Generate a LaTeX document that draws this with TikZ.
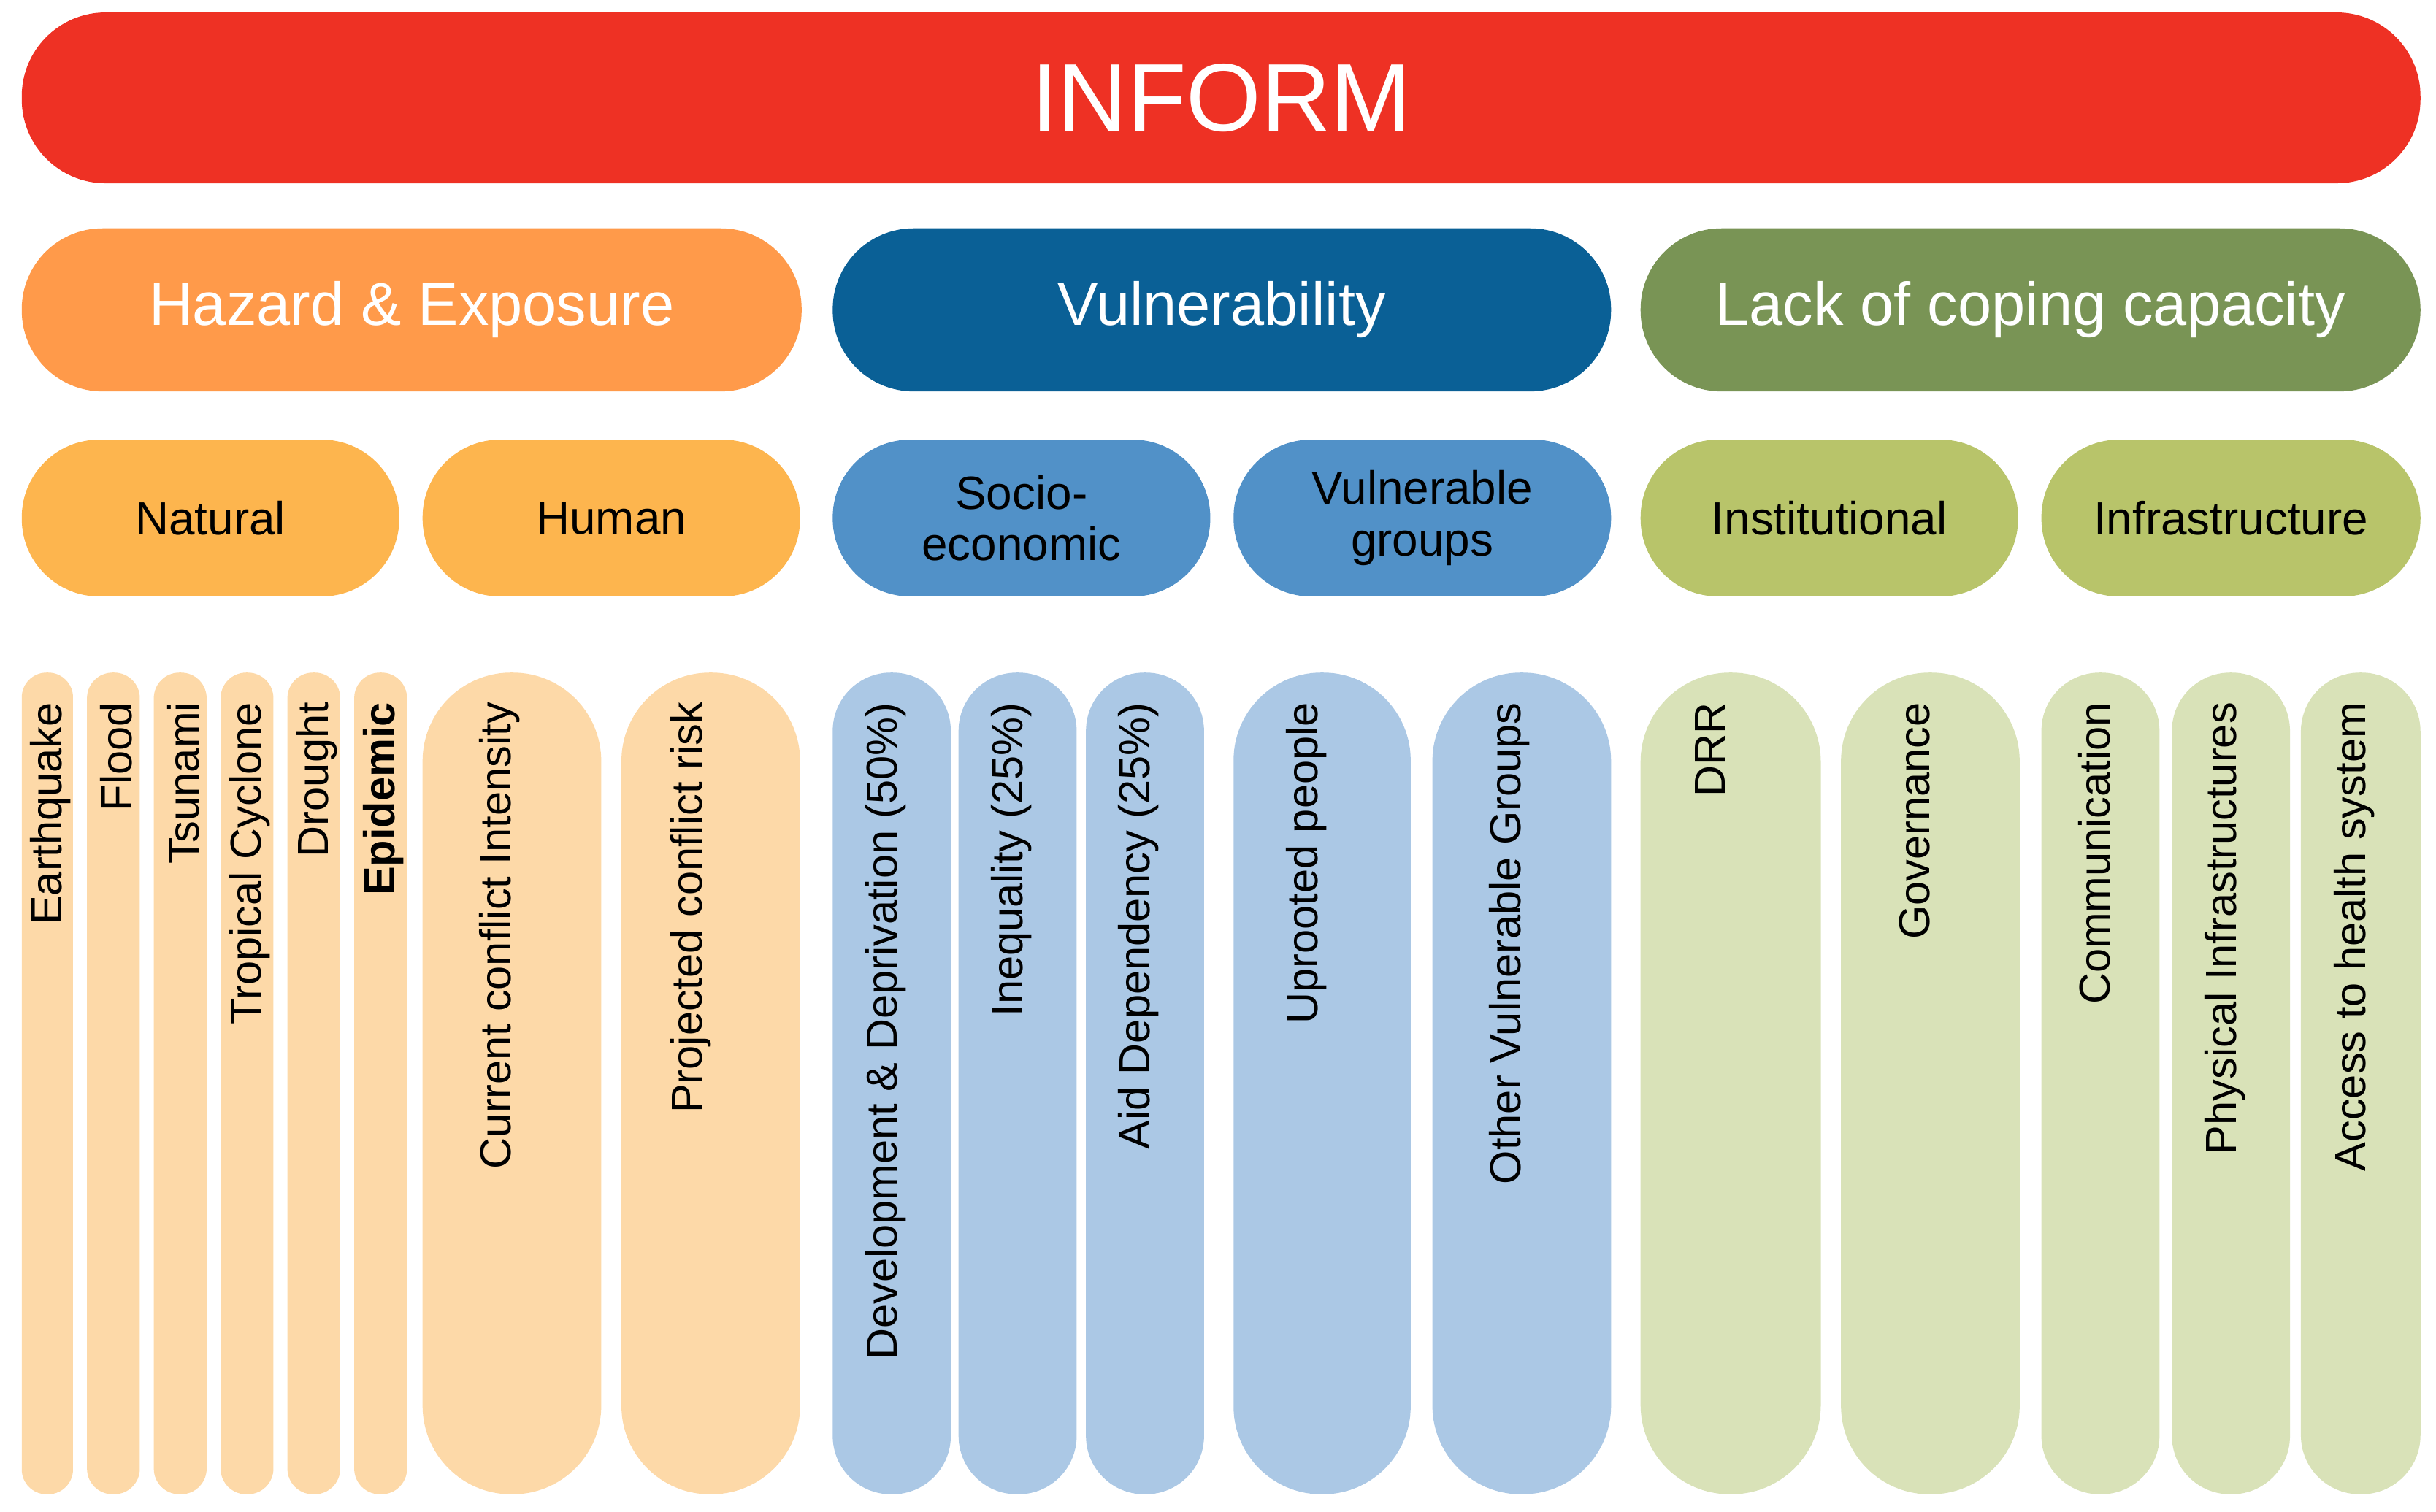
\documentclass[tikz,border=0pt]{standalone}
\usepackage{fontspec}
\setmainfont{Liberation Sans}
\definecolor{cred}{HTML}{EE3124}
\definecolor{corg}{HTML}{FF9A4A}
\definecolor{cblu}{HTML}{0A6096}
\definecolor{cgrn}{HTML}{799455}
\definecolor{lorg}{HTML}{FDB54E}
\definecolor{lblu}{HTML}{5191C8}
\definecolor{lgrn}{HTML}{B8C46A}
\definecolor{porg}{HTML}{FDD9A8}
\definecolor{pblu}{HTML}{ABC8E5}
\definecolor{pgrn}{HTML}{D9E2B8}
\newcommand{\blob}[7]{% name x1 y1 x2 y2 color radius
  \fill[#6,rounded corners=#7pt] (#2,#3) rectangle (#4,#5);
  \coordinate (#1) at ({(#2+#4)/2},{(#3+#5)/2});}
\newcommand{\pillar}[6]{% name x1 x2 color text style
  \pgfmathsetmacro{\rr}{min(60,(#3-#2)/2-0.5)}
  \fill[#4,rounded corners=\rr pt] (#2,433) rectangle (#3,962);
  \node[pl,#6] (#1) at ({(#2+#3)/2+2},452) {#5};}
\begin{document}
\begin{tikzpicture}[x=1pt,y=-1pt,
  pl/.style={rotate=90,anchor=east,font=\fontsize{28}{31}\selectfont,inner sep=0},
  t3/.style={font=\fontsize{30}{33}\selectfont,align=center},
  t2/.style={font=\fontsize{39}{44}\selectfont,text=white}]
\useasboundingbox (0,0) rectangle (1568,973.4);
\blob{inform}{14}{8}{1558}{118}{cred}{54}
\node[font=\fontsize{62}{70}\selectfont,text=white] at (inform) {INFORM};
\blob{haz}{14}{147}{516}{252}{corg}{52}
\node[t2] at (haz) {Hazard \& Exposure};
\blob{vul}{536}{147}{1037}{252}{cblu}{52}
\node[t2] at (vul) {Vulnerability};
\blob{lcc}{1056}{147}{1558}{252}{cgrn}{52}
\node[t2] at (lcc) {Lack of coping capacity};
\blob{nat}{14}{283}{257}{384}{lorg}{50}\node[t3] at (nat) {Natural};
\blob{hum}{272}{283}{515}{384}{lorg}{50}\node[t3] at (hum) {Human};
\blob{soc}{536}{283}{779}{384}{lblu}{50}\node[t3] at (soc) {Socio-\\economic};
\blob{vgr}{794}{283}{1037}{384}{lblu}{50}\node[t3] at (vgr) {Vulnerable\\groups};
\blob{ins}{1056}{283}{1299}{384}{lgrn}{50}\node[t3] at (ins) {Institutional};
\blob{inf}{1314}{283}{1558}{384}{lgrn}{50}\node[t3] at (inf) {Infrastructure};
\pillar{p1}{14}{47}{porg}{Earthquake}{}
\pillar{p2}{56}{90}{porg}{Flood}{}
\pillar{p3}{99}{133}{porg}{Tsunami}{}
\pillar{p4}{142}{176}{porg}{Tropical Cyclone}{}
\pillar{p5}{185}{219}{porg}{Drought}{}
\pillar{p6}{228}{262}{porg}{\bfseries Epidemic}{}
\pillar{p7}{272}{387}{porg}{Current conflict Intensity}{yshift=10}
\pillar{p8}{400}{515}{porg}{Projected conflict risk}{yshift=15}
\pillar{p9}{536}{612}{pblu}{Development \& Deprivation (50\%)}{yshift=6}
\pillar{p10}{617}{693}{pblu}{Inequality (25\%)}{yshift=6}
\pillar{p11}{699}{775}{pblu}{Aid Dependency (25\%)}{yshift=6}
\pillar{p12}{794}{908}{pblu}{Uprooted people}{yshift=12}
\pillar{p13}{922}{1037}{pblu}{Other Vulnerable Groups}{yshift=10}
\pillar{p14}{1056}{1172}{pgrn}{DRR}{yshift=15}
\pillar{p15}{1185}{1300}{pgrn}{Governance}{yshift=12}
\pillar{p16}{1314}{1390}{pgrn}{Communication}{yshift=6}
\pillar{p17}{1398}{1474}{pgrn}{Physical Infrastructures}{yshift=6}
\pillar{p18}{1481}{1558}{pgrn}{Access to health system}{yshift=6}
\end{tikzpicture}
\end{document}
